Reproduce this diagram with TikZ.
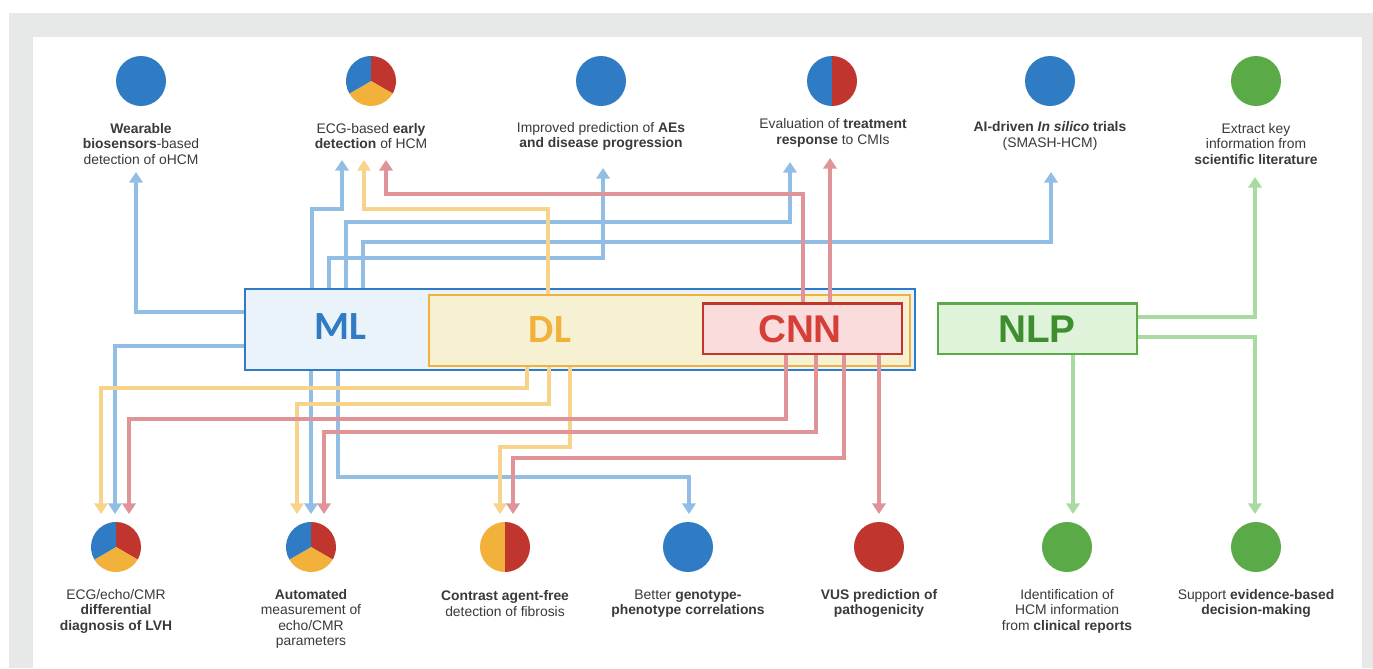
\documentclass[tikz,border=0pt]{standalone}
\usepackage{fontspec}
\setmainfont{Liberation Sans}
\newfontfamily\carl{Carlito}
\usetikzlibrary{arrows.meta,calc}
\definecolor{blueC}{HTML}{2F7BC4}
\definecolor{yelC}{HTML}{F1B13B}
\definecolor{redC}{HTML}{C0352D}
\definecolor{grnC}{HTML}{5AAB47}
\definecolor{lblue}{HTML}{92BEE6}
\definecolor{lyel}{HTML}{F8D38C}
\definecolor{lred}{HTML}{E09498}
\definecolor{lgrn}{HTML}{A8DB9F}
\definecolor{txtC}{HTML}{3A3A3A}
\definecolor{bgC}{HTML}{E7E8E8}
\definecolor{mlF}{HTML}{EAF2FA}
\definecolor{dlF}{HTML}{F6F1D3}
\definecolor{cnnF}{HTML}{FADCDC}
\definecolor{nlpF}{HTML}{DFF2DA}
\definecolor{cnnT}{HTML}{D63F38}
\definecolor{nlpT}{HTML}{3E8E2F}
\tikzset{
  circ/.style={circle,minimum size=37.5pt,inner sep=0pt},
  lbl/.style={align=center,font=\fontsize{10.4}{11.6}\selectfont,text=txtC,inner sep=0pt},
  conn/.style={line width=2.8pt,-{Triangle[length=8pt,width=10pt]}},
  bA/.style={conn,draw=lblue},
  yA/.style={conn,draw=lyel},
  rA/.style={conn,draw=lred},
  gA/.style={conn,draw=lgrn},
  boxC/.style={rectangle,inner sep=0pt,line width=1.8pt},
  big/.style={font=\fontsize{30}{30}\selectfont\bfseries,inner sep=0pt}
}
\begin{document}
\begin{tikzpicture}[x=0.75pt,y=-0.75pt]
\useasboundingbox (0,0) rectangle (1373,668);
\fill[bgC] (9,13) rectangle (1373,668);
\fill[white] (33,37) rectangle (1362,668);

% boxes
\node[boxC,draw=blueC,fill=mlF,minimum width=502.5pt,minimum height=60.75pt] (ML) at (580,329.5) {};
\node[boxC,draw=yelC,fill=dlF,minimum width=360.75pt,minimum height=53.25pt] (DL) at (669.5,330.5) {};
\node[boxC,draw=redC,fill=cnnF,minimum width=149.25pt,minimum height=37.9pt] (CNN) at (802.5,328.75) {};
\node[boxC,draw=grnC,fill=nlpF,minimum width=149.25pt,minimum height=37.9pt] (NLP) at (1037.5,328.75) {};
\node[big,text=blueC] (MLt) at (340,327) {\carl ML};
\node[big,text=yelC] (DLt) at (550,330) {\carl DL};
\node[big,text=cnnT,font=\fontsize{29}{29}\selectfont\bfseries] (CNNt) at (800,329) {CNN};
\node[big,text=nlpT,font=\fontsize{29}{29}\selectfont\bfseries] (NLPt) at (1037,329) {NLP};

% top circles
\node[circ,fill=blueC] (c1) at (141,81) {};
\node[circ] (c2) at (371,81) {};
\fill[redC] (c2.center) -- ++(90:18.75pt) arc[start angle=90,end angle=-30,radius=18.75pt] -- cycle;
\fill[yelC] (c2.center) -- ++(-30:18.75pt) arc[start angle=-30,end angle=-150,radius=18.75pt] -- cycle;
\fill[blueC] (c2.center) -- ++(-150:18.75pt) arc[start angle=-150,end angle=-270,radius=18.75pt] -- cycle;
\node[circ,fill=blueC] (c3) at (601,81) {};
\node[circ] (c4) at (832,81) {};
\fill[blueC] (c4.center) -- ++(90:18.75pt) arc[start angle=90,end angle=270,radius=18.75pt] -- cycle;
\fill[redC] (c4.center) -- ++(90:18.75pt) arc[start angle=90,end angle=-90,radius=18.75pt] -- cycle;
\node[circ,fill=blueC] (c5) at (1050,81) {};
\node[circ,fill=grnC] (c6) at (1256,81) {};

% top labels
\node[lbl] (l1) at (141,144) {\textbf{Wearable}\\\textbf{biosensors}-based\\detection of oHCM};
\node[lbl] (l2) at (371,136) {ECG-based \textbf{early}\\\textbf{detection} of HCM};
\node[lbl] (l3) at (601,136.5) {Improved prediction of \textbf{AEs}\\\textbf{and disease progression}};
\node[lbl] (l4) at (833,133) {Evaluation of \textbf{treatment}\\\textbf{response} to CMIs};
\node[lbl] (l5) at (1050,136) {\textbf{AI-driven \textit{In silico} trials}\\(SMASH-HCM)};
\node[lbl] (l6) at (1256,144) {Extract key\\information from\\\textbf{scientific literature}};

% bottom circles
\node[circ] (d1) at (116,547) {};
\node[circ] (d2) at (311,547) {};
\foreach \n in {d1,d2}{
\fill[redC] (\n.center) -- ++(90:18.75pt) arc[start angle=90,end angle=-30,radius=18.75pt] -- cycle;
\fill[yelC] (\n.center) -- ++(-30:18.75pt) arc[start angle=-30,end angle=-150,radius=18.75pt] -- cycle;
\fill[blueC] (\n.center) -- ++(-150:18.75pt) arc[start angle=-150,end angle=-270,radius=18.75pt] -- cycle;
}
\node[circ] (d3) at (505,547) {};
\fill[yelC] (d3.center) -- ++(90:18.75pt) arc[start angle=90,end angle=270,radius=18.75pt] -- cycle;
\fill[redC] (d3.center) -- ++(90:18.75pt) arc[start angle=90,end angle=-90,radius=18.75pt] -- cycle;
\node[circ,fill=blueC] (d4) at (688,547) {};
\node[circ,fill=redC] (d5) at (879,547) {};
\node[circ,fill=grnC] (d6) at (1067,547) {};
\node[circ,fill=grnC] (d7) at (1256,547) {};

% bottom labels
\node[lbl] (m1) at (116,611) {ECG/echo/CMR\\\textbf{differential}\\\textbf{diagnosis of LVH}};
\node[lbl] (m2) at (311,619) {\textbf{Automated}\\measurement of\\echo/CMR\\parameters};
\node[lbl] (m3) at (505,603.5) {\textbf{Contrast agent-free}\\detection of fibrosis};
\node[lbl] (m4) at (688,603.5) {Better \textbf{genotype-}\\\textbf{phenotype correlations}};
\node[lbl] (m5) at (879,603.5) {\textbf{VUS prediction of}\\\textbf{pathogenicity}};
\node[lbl] (m6) at (1067,611) {Identification of\\HCM information\\from \textbf{clinical reports}};
\node[lbl] (m7) at (1256,603.5) {Support \textbf{evidence-based}\\\textbf{decision-making}};

% arrow tips
\coordinate (wT) at (136,172);
\coordinate (eB) at (342,160);
\coordinate (eY) at (364,160);
\coordinate (eR) at (386,160);
\coordinate (iB) at (603,168);
\coordinate (vB) at (790,162);
\coordinate (vR) at (830,158);
\coordinate (aB) at (1051,172);
\coordinate (xG) at (1255,177);
\coordinate (p1Y) at (101,514);
\coordinate (p1B) at (115,514);
\coordinate (p1R) at (129,514);
\coordinate (p2Y) at (297,514);
\coordinate (p2B) at (311,514);
\coordinate (p2R) at (324,514);
\coordinate (p3Y) at (500,514);
\coordinate (p3R) at (513,514);
\coordinate (gB) at (689,514);
\coordinate (vR2) at (879,514);
\coordinate (iG) at (1073,514);
\coordinate (sG) at (1255,514);

% top connectors
\draw[bA] ($(ML.north west)+(0,24)$) -| (wT);
\draw[bA] ($(ML.north west)+(68,0)$) |- ($(eB)+(0,49)$) -- (eB);
\draw[bA] ($(ML.north west)+(85,0)$) |- ($(iB)+(0,90)$) -- (iB);
\draw[bA] ($(ML.north west)+(102,0)$) |- ($(vB)+(0,60)$) -- (vB);
\draw[bA] ($(ML.north west)+(119,0)$) |- ($(aB)+(0,70)$) -- (aB);
\draw[yA] ($(DL.north west)+(120,0)$) |- ($(eY)+(0,49)$) -- (eY);
\draw[rA] ($(CNN.north west)+(101,0)$) |- ($(eR)+(0,34)$) -- (eR);
\draw[rA] (CNN.north -| vR) -- (vR);
\draw[gA] ($(NLP.north east)+(0,14.5)$) -| (xG);

% bottom connectors
\draw[bA] ($(ML.south west)+(0,-25)$) -| (p1B);
\draw[bA] (ML.south -| p2B) -- (p2B);
\draw[bA] ($(ML.south west)+(94,0)$) |- ($(gB)+(0,-37)$) -- (gB);
\draw[yA] ($(DL.south west)+(99,0)$) |- ($(p1Y)+(0,-126)$) -- (p1Y);
\draw[yA] ($(DL.south west)+(121,0)$) |- ($(p2Y)+(0,-110)$) -- (p2Y);
\draw[yA] ($(DL.south west)+(142,0)$) |- ($(p3Y)+(0,-67)$) -- (p3Y);
\draw[rA] ($(CNN.south west)+(84,0)$) |- ($(p1R)+(0,-95)$) -- (p1R);
\draw[rA] ($(CNN.south west)+(114,0)$) |- ($(p2R)+(0,-82)$) -- (p2R);
\draw[rA] ($(CNN.south west)+(142,0)$) |- ($(p3R)+(0,-56)$) -- (p3R);
\draw[rA] (CNN.south -| vR2) -- (vR2);
\draw[gA] (NLP.south -| iG) -- (iG);
\draw[gA] ($(NLP.north east)+(0,34.5)$) -| (sG);
\end{tikzpicture}
\end{document}
